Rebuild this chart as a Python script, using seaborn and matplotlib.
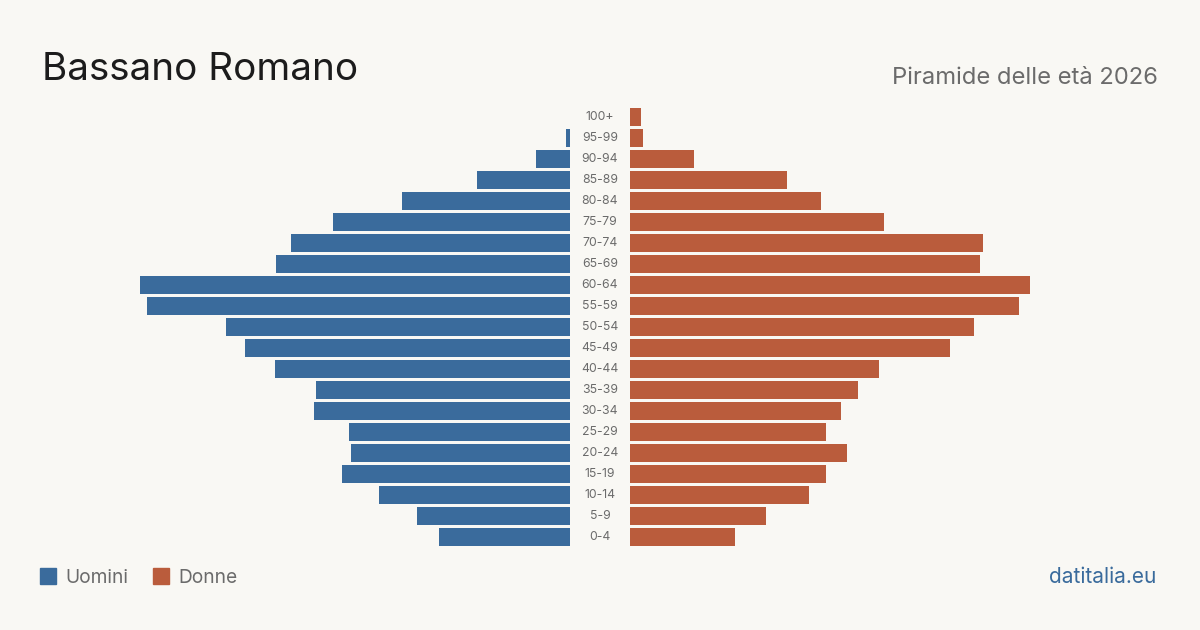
import matplotlib
matplotlib.use("Agg")
import matplotlib.pyplot as plt
import matplotlib.transforms as mtransforms
from matplotlib.patches import Rectangle
import seaborn as sns
import pandas as pd

# Age classes, top of the pyramid first
age_groups = ["100+", "95-99", "90-94", "85-89", "80-84", "75-79", "70-74",
              "65-69", "60-64", "55-59", "50-54", "45-49", "40-44", "35-39",
              "30-34", "25-29", "20-24", "15-19", "10-14", "5-9", "0-4"]
men = [0, 2, 18, 50, 90, 127, 149, 157, 230, 226, 184, 174, 158, 136,
       137, 118, 117, 122, 102, 82, 70]
women = [6, 7, 34, 84, 102, 136, 189, 187, 214, 208, 184, 171, 133, 122,
         113, 105, 116, 105, 96, 73, 56]

df = pd.DataFrame({"age": age_groups, "Uomini": men, "Donne": women})

BG = "#f9f8f4"
BLUE = "#3a6b9c"
ORANGE = "#ba5c3c"
GREY = "#6b6b6b"

sns.set_theme(style="white")
plt.rcParams["font.family"] = ["Inter", "DejaVu Sans"]

W, H = 1200, 630
fig = plt.figure(figsize=(12, 6.3), dpi=100, facecolor=BG)

# pixel layout of the two halves
top, step = 106.5, 21
n = len(age_groups)
bottom_px = top + n * step
rect_y = 1 - bottom_px / H
rect_h = n * step / H
xmax = 230

ax_l = fig.add_axes([140 / W, rect_y, 430 / W, rect_h])
ax_r = fig.add_axes([630 / W, rect_y, 430 / W, rect_h])

sns.barplot(data=df, y="age", x="Uomini", order=age_groups, color=BLUE,
            width=0.81, saturation=1, linewidth=0, ax=ax_l)
sns.barplot(data=df, y="age", x="Donne", order=age_groups, color=ORANGE,
            width=0.81, saturation=1, linewidth=0, ax=ax_r)

ax_l.set_xlim(xmax, 0)
ax_r.set_xlim(0, xmax)
for ax in (ax_l, ax_r):
    ax.set_ylim(n - 0.5, -0.5)
    ax.set_facecolor("none")
    ax.set_xlabel("")
    ax.set_ylabel("")
    ax.set_xticks([])
    ax.set_yticks([])
    sns.despine(ax=ax, left=True, bottom=True)

# age labels in the gap between the halves
tr = mtransforms.blended_transform_factory(fig.transFigure, ax_r.transData)
for i, lab in enumerate(age_groups):
    ax_r.text(600 / W, i, lab, transform=tr, ha="center", va="center",
              fontsize=8.8, color=GREY)

# titles
fig.text(42 / W, 1 - 80 / H, "Bassano Romano", fontsize=27.8, color="#1c1c1c",
         va="baseline", ha="left")
fig.text(1158 / W, 1 - 84 / H, "Piramide delle età 2026", fontsize=17.1,
         color=GREY, va="baseline", ha="right")

# legend
for x0, lab, col in [(40, "Uomini", BLUE), (153, "Donne", ORANGE)]:
    fig.patches.append(Rectangle((x0 / W, 1 - 584 / H), 16 / W, 16 / H,
                                 transform=fig.transFigure, color=col))
    fig.text((x0 + 25) / W, 1 - 583 / H, lab, fontsize=13.8, color=GREY,
             va="baseline", ha="left")

fig.text(1156 / W, 1 - 583 / H, "datitalia.eu", fontsize=15, color=BLUE,
         va="baseline", ha="right")

fig.savefig("out.png", dpi=100, facecolor=BG)
